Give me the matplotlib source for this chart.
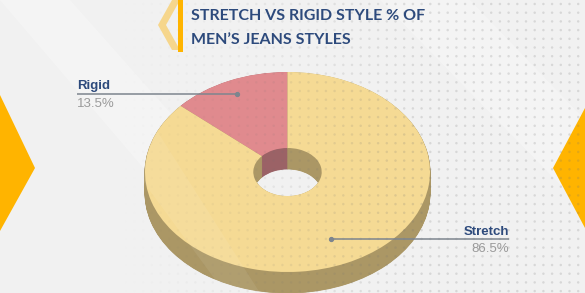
import numpy as np
import matplotlib
matplotlib.use("Agg")
import matplotlib.pyplot as plt
from matplotlib.patches import Polygon, Rectangle

# ---- data ----
labels = ["Rigid", "Stretch"]
shares = [13.5, 86.5]
pct_text = ["13.5%", "86.5%"]
title_lines = ["STRETCH VS RIGID STYLE % OF", "MEN\u2019S JEANS STYLES"]

top_colors = ["#E08A8E", "#F5DA94"]
side_colors = ["#9B6266", "#AB9765"]

W, H = 585, 293
fig = plt.figure(figsize=(W / 100, H / 100), dpi=100)
fig.patch.set_facecolor("#F1F1F1")


def pixel_axes(z):
    ax = fig.add_axes([0, 0, 1, 1])
    ax.set_xlim(0, W)
    ax.set_ylim(H, 0)
    ax.axis("off")
    ax.set_zorder(z)
    ax.patch.set_alpha(0)
    return ax


bg = pixel_axes(0)

# soft diagonal light bands
for poly, a in [([(0, 0), (70, 0), (330, 293), (250, 293)], 0.25),
                ([(380, 0), (470, 0), (585, 120), (585, 210)], 0.25)]:
    bg.add_patch(Polygon(poly, closed=True, fc="white", ec="none", alpha=a, zorder=1))

# yellow side chevrons
bg.add_patch(Polygon([(0, 95), (35, 168), (0, 231)], closed=True,
                     fc="#FFB400", ec="none", zorder=2))
bg.add_patch(Polygon([(585, 108), (553, 168), (585, 228)], closed=True,
                     fc="#FFB400", ec="none", zorder=2))

# ---- extruded donut ----
cx_px, cy_px, rx_px, ry_px = 287.5, 172.0, 142.5, 100.0
depth = 0.21
hole = 0.24

pa = fig.add_axes([0, 0, 1, 1])
pa.set_zorder(1)
pa.patch.set_alpha(0)

n_layers = 36
for k in range(n_layers, 0, -1):
    off = depth * k / n_layers
    pa.pie(shares, colors=side_colors, startangle=90, counterclock=True,
           radius=1.0, center=(0, -off),
           wedgeprops=dict(width=1 - hole, linewidth=0.6))
    for w in pa.patches[-2:]:
        w.set_edgecolor(w.get_facecolor())

wedges, _ = pa.pie(shares, colors=top_colors, startangle=90, counterclock=True,
                   radius=1.0, center=(0, 0),
                   wedgeprops=dict(width=1 - hole, linewidth=0))

pa.set_aspect("auto")
pa.set_xlim(-cx_px / rx_px, (W - cx_px) / rx_px)
pa.set_ylim((cy_px - H) / ry_px, cy_px / ry_px)
pa.axis("off")

# foreground: texture, header, labels
fg = pixel_axes(2)

# dotted texture, fading in toward the right
gx, gy = np.meshgrid(np.arange(4, W, 8.7), np.arange(4, H, 8.7))
gx, gy = gx.ravel(), gy.ravel()
rgba = np.zeros((gx.size, 4))
rgba[:, :3] = 0.45
rgba[:, 3] = np.clip((gx - 120) / 300.0, 0, 1) * 0.2
fg.scatter(gx, gy, s=3.2, c=rgba, linewidths=0, zorder=1)

# light band crossing the donut
fg.add_patch(Polygon([(120, 150), (150, 120), (260, 293), (225, 293)], closed=True,
                     fc="white", ec="none", alpha=0.07, zorder=2))

# header ornament
fg.add_patch(Polygon([(172, 0), (180, 0), (166, 25), (180, 50), (172, 50), (158, 25)],
                     closed=True, fc="#F8D27A", ec="none", alpha=0.85, zorder=3))
fg.add_patch(Rectangle((178, 0), 5, 52, fc="#FFB400", ec="none", zorder=4))

# title
for i, line in enumerate(title_lines):
    fg.text(191, 19.5 + i * 24, line, fontsize=11.5, fontweight="bold",
            family="Lato", color="#2D4A7C", va="baseline", ha="left", zorder=5)

# ---- labels with leader lines ----
fracs = np.array(shares) / sum(shares)
start = 90.0
anchor_r = [0.86, 0.74]
text_x = [77, 509]
for i, (lab, frac) in enumerate(zip(labels, fracs)):
    mid = np.deg2rad(start + frac * 360 / 2)
    start += frac * 360
    px = cx_px + anchor_r[i] * np.cos(mid) * rx_px
    py = cy_px - anchor_r[i] * np.sin(mid) * ry_px
    tx = text_x[i]
    ha = "left" if tx < px else "right"
    fg.plot([tx, px], [py, py], color="#7D858E", lw=1.1, zorder=6,
            solid_capstyle="butt")
    fg.plot([px], [py], "o", color="#7D858E", ms=2.8, zorder=7)
    fg.text(tx, py - 4.5, lab, fontsize=9.5, fontweight="bold",
            family="Liberation Sans", color="#2D4A7C", ha=ha, va="baseline", zorder=8)
    fg.text(tx, py + 4, pct_text[i], fontsize=9.5, family="Liberation Sans",
            color="#9A9A9A", ha=ha, va="top", zorder=8)

fig.savefig("out.png", dpi=100, facecolor=fig.get_facecolor())
